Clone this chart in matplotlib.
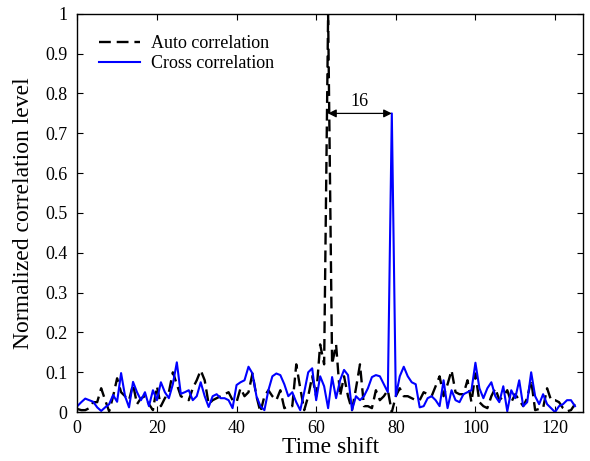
import matplotlib.pyplot as plt
import numpy as np

# time shift axis
shift = np.arange(0, 126)

auto_corr = [0.008, 0.005, 0.005, 0.01, 0.025, 0.025, 0.06, 0.03, 0.002, 0.04,
             0.085, 0.05, 0.04, 0.03, 0.07, 0.02, 0.035, 0.04, 0.02, 0.005,
             0.065, 0.015, 0.035, 0.05, 0.1, 0.07, 0.04, 0.035, 0.03, 0.06,
             0.08, 0.105, 0.08, 0.02, 0.03, 0.035, 0.04, 0.045, 0.05, 0.03,
             0.025, 0.06, 0.04, 0.05, 0.097, 0.04, 0.0, 0.04, 0.055, 0.04,
             0.03, 0.055, 0.01, 0.015, 0.015, 0.12, 0.06, 0.005, 0.04, 0.09,
             0.04, 0.17, 0.12, 1.0, 0.12, 0.17, 0.04, 0.09, 0.04, 0.005,
             0.06, 0.12, 0.015, 0.015, 0.01, 0.055, 0.03, 0.04, 0.055, 0.0,
             0.04, 0.06, 0.04, 0.04, 0.035, 0.03, 0.03, 0.05, 0.045, 0.04,
             0.065, 0.09, 0.04, 0.07, 0.105, 0.05, 0.045, 0.045, 0.08, 0.025,
             0.097, 0.025, 0.015, 0.01, 0.04, 0.06, 0.03, 0.04, 0.055, 0.025,
             0.045, 0.03, 0.015, 0.035, 0.08, 0.005, 0.008, 0.01, 0.06, 0.03,
             0.03, 0.025, 0.01, 0.002, 0.005, 0.02]

cross_corr = [0.015, 0.025, 0.034, 0.03, 0.026, 0.012, 0.003, 0.012, 0.02, 0.043,
              0.026, 0.098, 0.04, 0.012, 0.076, 0.05, 0.03, 0.05, 0.015, 0.055,
              0.03, 0.075, 0.05, 0.035, 0.07, 0.125, 0.046, 0.05, 0.055, 0.03,
              0.04, 0.075, 0.04, 0.013, 0.04, 0.045, 0.035, 0.035, 0.03, 0.01,
              0.068, 0.075, 0.08, 0.114, 0.097, 0.04, 0.015, 0.005, 0.055, 0.09,
              0.097, 0.093, 0.07, 0.04, 0.05, 0.025, 0.005, 0.05, 0.1, 0.11,
              0.03, 0.09, 0.065, 0.01, 0.088, 0.035, 0.08, 0.106, 0.093, 0.005,
              0.04, 0.03, 0.04, 0.06, 0.088, 0.093, 0.09, 0.07, 0.05, 0.75,
              0.04, 0.09, 0.114, 0.09, 0.075, 0.07, 0.012, 0.015, 0.035, 0.04,
              0.03, 0.015, 0.08, 0.01, 0.055, 0.03, 0.025, 0.045, 0.05, 0.055,
              0.124, 0.06, 0.035, 0.06, 0.075, 0.04, 0.025, 0.065, 0.002, 0.055,
              0.035, 0.08, 0.015, 0.025, 0.1, 0.04, 0.02, 0.045, 0.02, 0.01,
              0.0, 0.015, 0.02, 0.03, 0.03, 0.015]

auto_peak = 63
cross_peak = 79

plt.rcParams['font.family'] = ['Liberation Serif', 'DejaVu Serif']

fig = plt.figure(figsize=(5.9, 4.61), dpi=100)
ax = fig.add_axes([0.131, 0.106, 0.857, 0.864])

ax.plot(shift, auto_corr, color='black', linestyle=(0, (5, 2.5)), linewidth=1.7,
        label='Auto correlation')
ax.plot(shift, cross_corr, color='blue', linewidth=1.5, label='Cross correlation')

# shift annotation between the two peaks
lvl = cross_corr[cross_peak]
ax.annotate('', xy=(auto_peak, lvl), xytext=(cross_peak, lvl),
            arrowprops=dict(arrowstyle='<|-|>', color='black', lw=0.9,
                            mutation_scale=12, shrinkA=0, shrinkB=0))
ax.text((auto_peak + cross_peak) / 2.0, lvl + 0.008, str(cross_peak - auto_peak),
        ha='center', va='bottom', fontsize=13)

ax.set_xlim(0, 127)
ax.set_ylim(0, 1)
ax.set_xticks(np.arange(0, 121, 20))
ax.set_yticks(np.arange(0, 1.01, 0.1))
ax.set_yticklabels(['0', '0.1', '0.2', '0.3', '0.4', '0.5', '0.6', '0.7', '0.8', '0.9', '1'])
ax.tick_params(direction='in', top=True, right=True, labelsize=13, length=4, width=0.8)
ax.tick_params(axis='x', pad=6)
ax.tick_params(axis='y', pad=7)
for s in ax.spines.values():
    s.set_linewidth(1.0)

ax.set_xlabel('Time shift', fontsize=17, labelpad=0)
ax.set_ylabel('Normalized correlation level', fontsize=17, labelpad=8)

ax.legend(loc='upper left', frameon=False, fontsize=13, handlelength=2.3,
          handletextpad=0.6, labelspacing=0.15, borderaxespad=0.8)

plt.savefig('out.png', dpi=100)
